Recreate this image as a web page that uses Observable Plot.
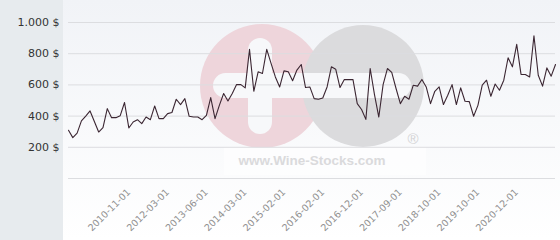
<!DOCTYPE html>
<html>
<head>
<meta charset="utf-8">
<script src="https://cdn.jsdelivr.net/npm/d3@7"></script>
<script src="https://cdn.jsdelivr.net/npm/@observablehq/plot@0.6"></script>
<style>
  html, body { margin: 0; padding: 0; background: #ffffff; }
  #wrap { position: relative; width: 560px; height: 240px; overflow: hidden; }
  #bg, #chart { position: absolute; left: 0; top: 0; }
</style>
</head>
<body>
<div id="wrap">
  <svg id="bg" width="560" height="240">
    <defs>
      <linearGradient id="plotbg" x1="0" y1="0" x2="0" y2="1">
        <stop offset="0" stop-color="#f1f3f7"/>
        <stop offset="1" stop-color="#ffffff"/>
      </linearGradient>
    </defs>
    <rect x="0" y="0" width="63" height="240" fill="#e7ebee"/>
    <rect x="63" y="0" width="497" height="240" fill="url(#plotbg)"/>
    <g id="watermark">
      <circle cx="262" cy="86" r="62" fill="#eed5db"/>
      <circle cx="363" cy="86" r="61" fill="#dbdbdd"/>
      <rect x="213" y="73" width="198" height="25" rx="12.5" fill="#f7f8fa"/>
      <rect x="248" y="38" width="24" height="96" rx="12" fill="#f7f8fa"/>
      <rect x="224" y="147" width="202" height="28" fill="#ffffff" opacity="0.6"/>
      <text x="312" y="165" text-anchor="middle" font-family="Liberation Sans, Arial, sans-serif" font-weight="bold" font-size="13.5" fill="#dadadc">www.Wine-Stocks.com</text>
      <text x="413" y="144" text-anchor="middle" font-family="Liberation Sans, Arial, sans-serif" font-size="15" fill="#d3d3d5">®</text>
    </g>
  </svg>
  <div id="chart"></div>
</div>
<script>
const prices = [
  309, 262, 291, 369, 400, 433, 365, 298, 326, 448, 390, 390, 403, 487, 324, 362, 377, 352, 394, 377,
  465, 384, 384, 416, 423, 508, 474, 512, 399,
  394, 394, 377, 405, 519, 384, 469, 545, 497, 545, 602, 602, 581, 828, 559, 684, 673, 828, 738, 651,
  587, 690, 684, 627, 695, 731, 583, 587, 512,
  508, 516, 587, 716, 701, 583, 634, 634, 635, 480, 442, 379, 705, 538, 394, 602, 705, 680, 577, 480,
  527, 508, 598, 592, 635, 587, 480, 559,
  587, 474, 534, 602, 474, 581, 495, 493, 399, 469, 598, 630, 527, 606, 566, 630, 774, 716, 860, 667,
  667, 651, 915, 662, 592, 709, 656, 731
];

// Category labels shown on the x axis (every 9th observation, starting at observation 14)
const xTickLabels = [
  "2010-11-01", "2012-03-01", "2013-06-01", "2014-03-01", "2015-02-01", "2016-02-01",
  "2016-12-01", "2017-09-01", "2018-10-01", "2019-10-01", "2020-12-01"
];
const firstLabelIndex = 14;
const labelEvery = 9;

const yTicks = [200, 400, 600, 800, 1000];
const yGrid = [0, 200, 400, 600, 800, 1000];

const data = prices.map((v, i) => ({ i, v }));
const xTickIdx = xTickLabels.map((_, k) => firstLabelIndex + k * labelEvery);
const labelByIdx = new Map(xTickIdx.map((t, k) => [t, xTickLabels[k]]));

function fmtMoney(d) {
  const s = String(d).replace(/\B(?=(\d{3})+(?!\d))/g, ".");
  return s + " $";
}

const chart = Plot.plot({
  width: 560,
  height: 240,
  marginLeft: 68,
  marginRight: 5,
  marginTop: 22,
  marginBottom: 62,
  style: { background: "transparent", fontFamily: "DejaVu Sans, sans-serif", fontSize: "11px", overflow: "visible" },
  x: { type: "linear", domain: [0, prices.length - 1], axis: null },
  y: { domain: [0, 1000], axis: null },
  marks: [
    Plot.gridY(yGrid, { stroke: "#dcdde0", strokeOpacity: 1, strokeWidth: 1 }),
    Plot.axisY(yTicks, {
      anchor: "left",
      tickSize: 0,
      tickPadding: 9,
      tickFormat: fmtMoney,
      fill: "#333333",
      fontSize: 11,
      label: null
    }),
    Plot.line(data, { x: "i", y: "v", stroke: "#3b2632", strokeWidth: 1.1 }),
    Plot.axisX(xTickIdx, {
      anchor: "bottom",
      tickSize: 0,
      tickPadding: 12,
      tickRotate: -45,
      tickFormat: d => labelByIdx.get(d),
      fill: "#909090",
      fontSize: 9.5,
      label: null
    })
  ]
});
document.getElementById("chart").appendChild(chart);
</script>
</body>
</html>
